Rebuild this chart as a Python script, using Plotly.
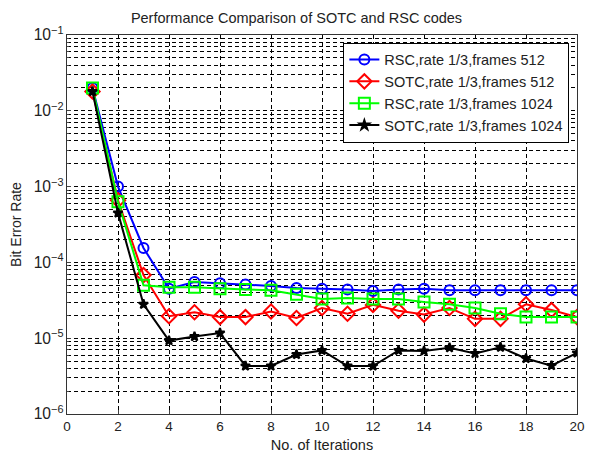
import plotly.graph_objects as go

iterations = list(range(1, 21))
rsc_512 = [2.0e-2, 1.0e-3, 1.55e-4, 4.5e-5, 5.5e-5, 5.3e-5, 5.1e-5, 4.9e-5, 4.6e-5, 4.5e-5,
           4.4e-5, 4.2e-5, 4.4e-5, 4.5e-5, 4.3e-5, 4.3e-5, 4.3e-5, 4.3e-5, 4.3e-5, 4.3e-5]
sotc_512 = [1.8e-2, 6.6e-4, 6.8e-5, 1.95e-5, 2.2e-5, 1.9e-5, 1.9e-5, 2.25e-5, 1.85e-5, 2.5e-5,
            2.1e-5, 2.75e-5, 2.3e-5, 2.05e-5, 2.5e-5, 1.8e-5, 1.8e-5, 2.8e-5, 2.35e-5, 1.9e-5]
rsc_1024 = [2.0e-2, 6.3e-4, 5.0e-5, 4.7e-5, 4.7e-5, 4.5e-5, 4.4e-5, 4.3e-5, 3.8e-5, 3.3e-5,
            3.4e-5, 3.3e-5, 3.3e-5, 3.0e-5, 2.8e-5, 2.5e-5, 2.1e-5, 1.9e-5, 1.9e-5, 1.9e-5]
sotc_1024 = [1.8e-2, 4.5e-4, 2.8e-5, 9.3e-6, 1.05e-5, 1.17e-5, 4.3e-6, 4.3e-6, 6.1e-6, 6.9e-6,
             4.3e-6, 4.3e-6, 6.9e-6, 6.8e-6, 7.5e-6, 6.3e-6, 7.6e-6, 5.4e-6, 4.35e-6, 6.4e-6]

series_names = ["RSC,rate 1/3,frames 512", "SOTC,rate 1/3,frames 512",
                "RSC,rate 1/3,frames 1024", "SOTC,rate 1/3,frames 1024"]
x_ticks = [0, 2, 4, 6, 8, 10, 12, 14, 16, 18, 20]

styles = [
    dict(color="#0000ff", symbol="circle-open", size=10),
    dict(color="#ff0000", symbol="diamond-open", size=11),
    dict(color="#00ff00", symbol="square-open", size=11),
    dict(color="#000000", symbol="star", size=7),
]

fig = go.Figure()
for name, ys, st in zip(series_names, [rsc_512, sotc_512, rsc_1024, sotc_1024], styles):
    fig.add_trace(go.Scatter(
        x=iterations, y=ys, name=name, mode="lines+markers",
        line=dict(color=st["color"], width=2),
        marker=dict(symbol=st["symbol"], size=st["size"], color=st["color"],
                    line=dict(color=st["color"], width=2)),
    ))

font_family = "Liberation Sans, Arial, sans-serif"
grid_dash = "4px,3px"
fig.update_layout(
    width=593, height=458,
    margin=dict(l=67, r=16, t=35, b=44, autoexpand=False),
    paper_bgcolor="white", plot_bgcolor="white",
    font=dict(family=font_family, size=13, color="#222222"),
    title=dict(text="Performance Comparison of SOTC and RSC codes", x=0.5, xanchor="center",
               y=0.961, yanchor="middle", font=dict(size=14.5, color="#222222")),
    showlegend=True,
    legend=dict(x=0.985, xanchor="right", y=0.98, yanchor="top",
                bgcolor="white", bordercolor="black", borderwidth=1,
                font=dict(size=14.5, color="#222222"), tracegroupgap=0),
    xaxis=dict(range=[0, 20], tickvals=x_ticks, ticks="inside", ticklen=4,
               automargin=False,
               showgrid=True, gridcolor="black", griddash=grid_dash, gridwidth=1,
               showline=True, linecolor="#333333", linewidth=1, mirror=True,
               zeroline=False, tickfont=dict(size=13.5),
               title=dict(text="No. of Iterations", font=dict(size=14.5), standoff=6)),
    yaxis=dict(type="log", range=[-6, -1], tickmode="linear", tick0=0, dtick=1,
               exponentformat="power", showexponent="all",
               ticks="inside", ticklen=4, automargin=False,
               showgrid=True, gridcolor="black", griddash=grid_dash, gridwidth=1,
               minor=dict(dtick="D1", showgrid=True, gridcolor="black", griddash=grid_dash,
                          gridwidth=1, ticks="inside", ticklen=2),
               showline=True, linecolor="#333333", linewidth=1, mirror=True,
               zeroline=False, tickfont=dict(size=12.5),
               title=dict(text="Bit Error Rate", font=dict(size=14), standoff=8)),
)

fig.write_html("out.html")
